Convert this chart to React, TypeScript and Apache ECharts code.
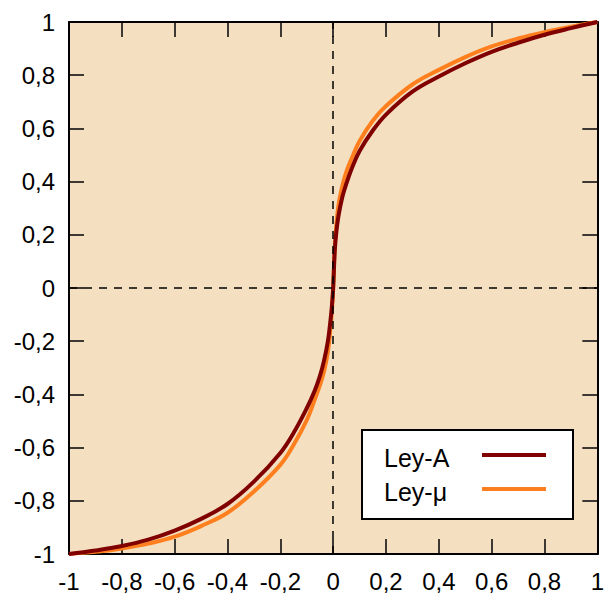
import React, { useEffect, useRef } from "react";
import * as echarts from "echarts";

// Input signal values (x) shared by both curves
const xValues = [
  -1, -0.9, -0.8, -0.7, -0.6, -0.5, -0.4, -0.3, -0.2, -0.15, -0.1, -0.07, -0.05, -0.035, -0.02, -0.01, -0.005,
  0,
  0.005, 0.01, 0.02, 0.035, 0.05, 0.07, 0.1, 0.15, 0.2, 0.3, 0.4, 0.5, 0.6, 0.7, 0.8, 0.9, 1,
];

// Ley-A (dark red)
const leyA = [
  -1, -0.987, -0.97, -0.946, -0.912, -0.868, -0.812, -0.728, -0.62, -0.545, -0.452, -0.386, -0.33, -0.275, -0.2, -0.12, -0.07,
  0,
  0.12, 0.19, 0.27, 0.343, 0.392, 0.448, 0.515, 0.592, 0.652, 0.738, 0.795, 0.845, 0.888, 0.922, 0.952, 0.977, 1,
];

// Ley-μ (orange)
const leyMu = [
  -1, -0.992, -0.979, -0.961, -0.935, -0.895, -0.845, -0.765, -0.665, -0.59, -0.497, -0.42, -0.365, -0.315, -0.24, -0.15, -0.09,
  0,
  0.13, 0.21, 0.31, 0.385, 0.437, 0.487, 0.553, 0.629, 0.684, 0.765, 0.82, 0.868, 0.908, 0.938, 0.962, 0.982, 1,
];

const seriesNames = ["Ley-A", "Ley-μ"];
const seriesColors = ["#800000", "#FF7F1E"];
const axisMin = -1;
const axisMax = 1;
const axisStep = 0.2;

const FONT = "'Liberation Sans', Arial, sans-serif";

const fmt = (v: number) => {
  const r = Math.round(v * 10) / 10;
  return String(r).replace(".", ",");
};

export default function App() {
  const ref = useRef<HTMLDivElement>(null);

  useEffect(() => {
    if (!ref.current) return;
    const chart = echarts.init(ref.current, null, { renderer: "svg" });

    const pairs = (ys: number[]) => xValues.map((x, i) => [x, ys[i]]);

    const tickCommon = {
      show: true,
      inside: true,
      length: 15,
      lineStyle: { color: "#000", width: 1.5 },
    };
    const lineCommon = { show: true, onZero: false, lineStyle: { color: "#000", width: 2 } };
    const labelCommon = {
      fontFamily: FONT,
      fontSize: 24,
      color: "#000",
      formatter: fmt,
    };

    const legendBox = { x: 362, y: 430, w: 211, h: 89 };
    const legendRows = [458, 492];

    const option: any = {
      animation: false,
      grid: {
        left: 69,
        right: 4,
        top: 22,
        bottom: 43,
        show: true,
        backgroundColor: "#F4E0C1",
        borderWidth: 0,
      },
      xAxis: [
        {
          type: "value",
          position: "bottom",
          min: axisMin,
          max: axisMax,
          interval: axisStep,
          axisLine: lineCommon,
          axisTick: tickCommon,
          splitLine: { show: false },
          axisLabel: { ...labelCommon, margin: 15, showMinLabel: true, showMaxLabel: true },
        },
        {
          type: "value",
          position: "top",
          min: axisMin,
          max: axisMax,
          interval: axisStep,
          axisLine: lineCommon,
          axisTick: tickCommon,
          splitLine: { show: false },
          axisLabel: { show: false },
        },
      ],
      yAxis: [
        {
          type: "value",
          position: "left",
          min: axisMin,
          max: axisMax,
          interval: axisStep,
          axisLine: lineCommon,
          axisTick: tickCommon,
          splitLine: { show: false },
          axisLabel: { ...labelCommon, margin: 14 },
        },
        {
          type: "value",
          position: "right",
          min: axisMin,
          max: axisMax,
          interval: axisStep,
          axisLine: lineCommon,
          axisTick: tickCommon,
          splitLine: { show: false },
          axisLabel: { show: false },
        },
      ],
      graphic: [
        {
          type: "rect",
          z: 100,
          shape: { x: legendBox.x, y: legendBox.y, width: legendBox.w, height: legendBox.h },
          style: { fill: "#ffffff", stroke: "#000", lineWidth: 2 },
        },
        ...seriesNames.flatMap((name, i) => [
          {
            type: "text",
            z: 101,
            x: 384,
            y: legendRows[i],
            style: {
              text: name,
              fontFamily: FONT,
              fontSize: 25,
              fill: "#000",
              verticalAlign: "middle",
              textAlign: "left",
            },
          },
          {
            type: "line",
            z: 101,
            shape: { x1: 482, y1: legendRows[i] - 3, x2: 546, y2: legendRows[i] - 3 },
            style: { stroke: seriesColors[i], lineWidth: 4 },
          },
        ]),
      ],
      series: [
        {
          name: "zero",
          type: "line",
          data: [],
          silent: true,
          markLine: {
            silent: true,
            symbol: "none",
            label: { show: false },
            lineStyle: { color: "#000", width: 1.5, type: [8, 7] },
            data: [{ xAxis: 0 }, { yAxis: 0 }],
          },
        },
        {
          name: seriesNames[1],
          type: "line",
          data: pairs(leyMu),
          showSymbol: false,
          symbol: "none",
          smooth: 0.4,
          color: seriesColors[1],
          lineStyle: { color: seriesColors[1], width: 4 },
        },
        {
          name: seriesNames[0],
          type: "line",
          data: pairs(leyA),
          showSymbol: false,
          symbol: "none",
          smooth: 0.4,
          color: seriesColors[0],
          lineStyle: { color: seriesColors[0], width: 4 },
        },
      ],
    };

    chart.setOption(option);
    return () => chart.dispose();
  }, []);

  return (
    <div
      ref={ref}
      style={{ position: "absolute", left: 0, top: 0, width: 607, height: 597, background: "#fff" }}
    />
  );
}
